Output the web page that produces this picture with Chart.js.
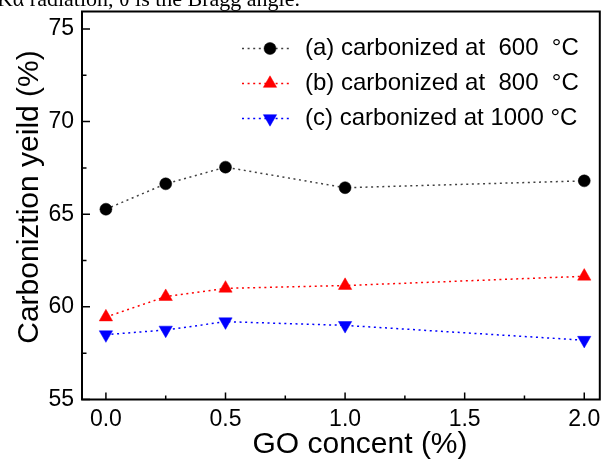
<!DOCTYPE html>
<html>
<head>
<meta charset="utf-8">
<script src="https://cdn.jsdelivr.net/npm/chart.js@4.4.1/dist/chart.umd.min.js"></script>
<style>
  html, body { margin: 0; padding: 0; background: #fff; }
  #grafica { display: block; }
</style>
</head>
<body>
<canvas id="grafica" width="608" height="459"></canvas>
<script>
// GO content (%) on x, carbonization yield (%) on y
const goContent = [0, 0.25, 0.5, 1.0, 2.0];
const yield600 = [65.27, 66.64, 67.54, 66.43, 66.80];
const yield800 = [59.45, 60.55, 61.00, 61.15, 61.65];
const yield1000 = [58.50, 58.75, 59.20, 59.00, 58.20];
const seriesLabels = [
  '(a) carbonized at  600  °C',
  '(b) carbonized at  800  °C',
  '(c) carbonized at 1000 °C'
];
const xMajorTicks = [0, 0.5, 1.0, 1.5, 2.0];
const xMinorTicks = [0.25, 0.75, 1.25, 1.75];
const yMajorTicks = [55, 60, 65, 70, 75];
const yMinorTicks = [57.5, 62.5, 67.5, 72.5];
const xTitle = 'GO concent (%)';
const yTitle = 'Carboniztion yeild (%)';
const caption = 'Cu Kα radiation, θ is the Bragg angle.';

const FONT = "'Liberation Sans', Arial, sans-serif";

function toPoints(ys) {
  return goContent.map((x, i) => ({ x: x, y: ys[i] }));
}

// frame, inward ticks, axis titles, legend and the caption line above
const decorations = {
  id: 'decorations',
  afterDraw(chart) {
    const ctx = chart.ctx;
    const a = chart.chartArea;
    const xs = chart.scales.x;
    const ys = chart.scales.y;
    ctx.save();

    // caption (cut off at the top edge)
    ctx.fillStyle = '#000';
    ctx.font = "22px 'Liberation Serif', 'Times New Roman', serif";
    ctx.textAlign = 'right';
    ctx.textBaseline = 'alphabetic';
    ctx.fillText(caption, 300, 5.5);

    // frame
    ctx.strokeStyle = '#000';
    ctx.lineWidth = 2;
    ctx.strokeRect(a.left, a.top, a.right - a.left, a.bottom - a.top);

    // ticks pointing into the plot
    ctx.lineWidth = 1.5;
    ctx.beginPath();
    xMajorTicks.forEach(v => { const p = xs.getPixelForValue(v); ctx.moveTo(p, a.bottom); ctx.lineTo(p, a.bottom - 7); });
    xMinorTicks.forEach(v => { const p = xs.getPixelForValue(v); ctx.moveTo(p, a.bottom); ctx.lineTo(p, a.bottom - 4); });
    yMajorTicks.forEach(v => { const p = ys.getPixelForValue(v); ctx.moveTo(a.left, p); ctx.lineTo(a.left + 8, p); });
    yMinorTicks.forEach(v => { const p = ys.getPixelForValue(v); ctx.moveTo(a.left, p); ctx.lineTo(a.left + 4.5, p); });
    ctx.stroke();

    // axis titles
    ctx.fillStyle = '#000';
    ctx.font = '30px ' + FONT;
    ctx.textAlign = 'center';
    ctx.textBaseline = 'alphabetic';
    ctx.fillText(xTitle, 360, 453);
    ctx.save();
    ctx.translate(37.5, 197);
    ctx.rotate(-Math.PI / 2);
    ctx.fillText(yTitle, 0, 0);
    ctx.restore();

    // legend
    chart.data.datasets.forEach((ds, i) => {
      const yRow = 48.5 + 35 * i;
      ctx.save();
      ctx.strokeStyle = ds.borderColor;
      ctx.lineWidth = ds.borderWidth;
      ctx.setLineDash(ds.borderDash);
      ctx.beginPath();
      ctx.moveTo(242, yRow);
      ctx.lineTo(292, yRow);
      ctx.stroke();
      ctx.restore();
      ctx.fillStyle = ds.pointBackgroundColor;
      ctx.strokeStyle = ds.pointBorderColor;
      ctx.lineWidth = 0.5;
      Chart.helpers.drawPoint(ctx, {
        pointStyle: ds.pointStyle,
        rotation: ds.pointRotation || 0,
        radius: ds.pointRadius,
        borderWidth: 0.5
      }, 270, yRow);
      ctx.fillStyle = '#000';
      ctx.font = '24px ' + FONT;
      ctx.textAlign = 'left';
      ctx.textBaseline = 'middle';
      ctx.fillText(ds.label, 305, yRow);
    });

    ctx.restore();
  }
};

document.addEventListener('DOMContentLoaded', function () {
  const canvas = document.getElementById('grafica');
  if (!canvas || typeof Chart === 'undefined') {
    console.warn('Chart.js no está cargado');
    return;
  }
  Chart.defaults.font.family = FONT;
  Chart.defaults.color = '#000';

  new Chart(canvas.getContext('2d'), {
    type: 'line',
    data: {
      datasets: [
        {
          label: seriesLabels[0],
          data: toPoints(yield600),
          borderColor: 'rgba(0,0,0,0.75)',
          borderWidth: 1.5,
          borderDash: [2, 3.6],
          pointStyle: 'circle',
          pointRadius: 6,
          pointBackgroundColor: '#000',
          pointBorderColor: '#000',
          pointBorderWidth: 0.5
        },
        {
          label: seriesLabels[1],
          data: toPoints(yield800),
          borderColor: '#ff0000',
          borderWidth: 1.5,
          borderDash: [2, 3.6],
          pointStyle: 'triangle',
          pointRadius: 7.7,
          pointBackgroundColor: '#ff0000',
          pointBorderColor: '#ff0000',
          pointBorderWidth: 0.5
        },
        {
          label: seriesLabels[2],
          data: toPoints(yield1000),
          borderColor: '#0000ff',
          borderWidth: 1.5,
          borderDash: [2, 3.6],
          pointStyle: 'triangle',
          pointRotation: 180,
          pointRadius: 7.7,
          pointBackgroundColor: '#0000ff',
          pointBorderColor: '#0000ff',
          pointBorderWidth: 0.5
        }
      ]
    },
    options: {
      responsive: false,
      devicePixelRatio: 1,
      animation: false,
      layout: { padding: { top: 11.5, right: 1, left: 0, bottom: 0 } },
      plugins: {
        legend: { display: false },
        tooltip: { enabled: false }
      },
      elements: { line: { tension: 0, fill: false } },
      scales: {
        x: {
          type: 'linear',
          min: -0.1,
          max: 2.065,
          grid: { display: false, drawTicks: false },
          border: { display: false },
          afterBuildTicks: s => { s.ticks = xMajorTicks.map(v => ({ value: v })); },
          afterFit: s => { s.height = 59.5; s.paddingLeft = 0; s.paddingRight = 0; },
          ticks: {
            autoSkip: false,
            maxRotation: 0,
            padding: 6,
            font: { size: 23 },
            callback: v => Number(v).toFixed(1)
          }
        },
        y: {
          type: 'linear',
          min: 55,
          max: 75.94,
          grid: { display: false, drawTicks: false },
          border: { display: false },
          afterBuildTicks: s => { s.ticks = yMajorTicks.map(v => ({ value: v })); },
          afterFit: s => { s.width = 82; s.paddingTop = 0; s.paddingBottom = 0; },
          ticks: {
            autoSkip: false,
            padding: 8,
            font: { size: 23 },
            callback: v => String(v)
          }
        }
      }
    },
    plugins: [decorations]
  });
});
</script>
</body>
</html>
